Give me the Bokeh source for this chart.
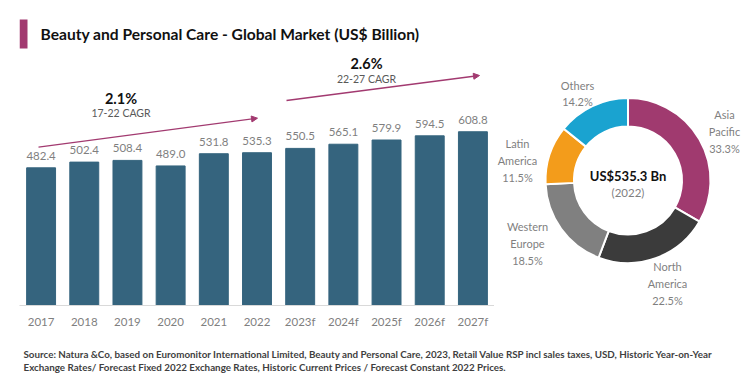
import math
from bokeh.plotting import figure
from bokeh.layouts import column, row
from bokeh.models import (ColumnDataSource, Label, Arrow, NormalHead, BoxAnnotation,
                          Range1d, FactorRange)
from bokeh.core.properties import value
from bokeh.embed import file_html
from bokeh.resources import INLINE

# ---------------- data ----------------
years = ["2017", "2018", "2019", "2020", "2021", "2022",
         "2023f", "2024f", "2025f", "2026f", "2027f"]
market = [482.4, 502.4, 508.4, 489.0, 531.8, 535.3,
          550.5, 565.1, 579.9, 594.5, 608.8]

cagr_hist = "2.1%"
cagr_hist_label = "17-22 CAGR"
cagr_fcst = "2.6%"
cagr_fcst_label = "22-27 CAGR"

regions = ["Asia Pacific", "North America", "Western Europe", "Latin America", "Others"]
shares = [33.3, 22.5, 18.5, 11.5, 14.2]
total_2022 = "US$535.3 Bn"
total_year = "(2022)"

title_text = "Beauty and Personal Care - Global Market (US$ Billion)"
source_lines = [
    "Source: Natura &Co, based on Euromonitor International Limited, Beauty and Personal Care, 2023, "
    "Retail Value RSP incl sales taxes, USD, Historic Year-on-Year",
    "Exchange Rates/ Forecast Fixed 2022 Exchange Rates, Historic Current Prices / Forecast Constant 2022 Prices.",
]

# ---------------- styles ----------------
FONT = "Lato"
BAR_COLOR = "#35647E"
ACCENT = "#A23A70"
GREY_TXT = "#7F7F7F"
region_colors = ["#A03A6F", "#3B3B3B", "#808080", "#F39C1B", "#1AA3D0"]
# label centres (relative to donut centre, px)
label_pos = [(96.5, 49), (39.5, -103), (-100.5, -63), (-110.5, 20), (-50.5, 87)]

W_BAR, W_DON, H_MAIN, H_FOOT = 494, 256, 340, 36

# ---------------- bar chart ----------------
p = figure(width=W_BAR, height=H_MAIN, x_range=FactorRange(*years, range_padding=0),
           y_range=Range1d(0, 1068.7), output_backend="svg", toolbar_location=None,
           y_axis_location=None,
           min_border_left=19, min_border_right=0, min_border_top=0, min_border_bottom=35)
p.outline_line_color = None
p.xgrid.visible = False
p.ygrid.visible = False
p.background_fill_color = "white"
p.border_fill_color = "white"

src = ColumnDataSource(dict(x=years, top=market, lab=[f"{v:.1f}" for v in market]))
p.vbar(x="x", top="top", width=0.67, source=src, color=BAR_COLOR)
p.text(x="x", y="top", text="lab", source=src, y_offset=-12,
       text_align="center", text_baseline="middle",
       text_font=value(FONT), text_font_size="11.5px", text_color=GREY_TXT)

ax = p.xaxis[0]
ax.axis_line_color = "#D9D9D9"
ax.major_tick_line_color = None
ax.minor_tick_line_color = None
ax.major_label_standoff = 3
ax.major_label_text_font = FONT
ax.major_label_text_font_size = "11.5px"
ax.major_label_text_color = GREY_TXT

# title block (screen units relative to frame)
p.add_layout(BoxAnnotation(left=0, right=8, bottom=257, top=286,
                           left_units="screen", right_units="screen",
                           bottom_units="screen", top_units="screen",
                           fill_color=ACCENT, fill_alpha=1, line_color=None))
p.add_layout(Label(x=21, y=271.5, x_units="screen", y_units="screen", text=title_text,
                   text_font=FONT, text_font_style="bold", text_font_size="15.6px",
                   text_color="#111111", text_baseline="middle"))

# CAGR annotations
def cagr(xc, y_pct, y_lab, pct, lab, xs, ys, xe, ye):
    p.add_layout(Label(x=xc, y=y_pct, x_units="screen", y_units="screen", text=pct,
                       text_font=FONT, text_font_style="bold", text_font_size="14.5px",
                       text_color="#111111", text_align="center", text_baseline="middle"))
    p.add_layout(Label(x=xc, y=y_lab, x_units="screen", y_units="screen", text=lab,
                       text_font=FONT, text_font_size="10.5px",
                       text_color="#595959", text_align="center", text_baseline="middle"))
    p.add_layout(Arrow(x_start=xs, y_start=ys, x_end=xe, y_end=ye,
                       start_units="screen", end_units="screen",
                       line_color=ACCENT, line_width=1.3,
                       end=NormalHead(size=6, fill_color=ACCENT, line_color=ACCENT)))

cagr(101.5, 207.5, 193, cagr_hist, cagr_hist_label, 19, 158.3, 238, 187.3)
cagr(347, 242, 227, cagr_fcst, cagr_fcst_label, 267, 205, 460, 230)

# ---------------- donut ----------------
# frame of this figure is aligned with the bar chart frame (page y 0..305)
d = figure(width=W_DON, height=H_MAIN, x_range=Range1d(-133.5, 122.5),
           y_range=Range1d(-125, 180), output_backend="svg", toolbar_location=None,
           x_axis_location=None, y_axis_location=None, min_border=0)
d.grid.visible = False
d.outline_line_color = None

tot = sum(shares)
cum = 0.0
starts, ends = [], []
for s in shares:
    a0 = math.pi / 2 - 2 * math.pi * cum / tot
    cum += s
    a1 = math.pi / 2 - 2 * math.pi * cum / tot
    starts.append(a1)
    ends.append(a0)

dsrc = ColumnDataSource(dict(start=starts, end=ends, color=region_colors))
d.annular_wedge(x=0, y=0, inner_radius=54, outer_radius=82.5, start_angle="start",
                end_angle="end", fill_color="color", line_color="white", line_width=2,
                source=dsrc)

lsrc = ColumnDataSource(dict(
    x=[q[0] for q in label_pos], y=[q[1] for q in label_pos],
    t=[r.replace(" ", "\n") + "\n" + f"{s:.1f}%" for r, s in zip(regions, shares)]))
d.text(x="x", y="y", text="t", source=lsrc, text_align="center", text_baseline="middle",
       text_font=value(FONT), text_font_size="11px", text_color=GREY_TXT,
       text_line_height=1.27)

d.text(x=[0], y=[5], text=[total_2022], text_align="center", text_baseline="middle",
       text_font=value(FONT), text_font_style="bold", text_font_size="13px",
       text_color="#111111")
d.text(x=[0], y=[-11.7], text=[total_year], text_align="center", text_baseline="middle",
       text_font=value(FONT), text_font_size="11.5px", text_color=GREY_TXT)

# ---------------- footer ----------------
f = figure(width=W_BAR + W_DON, height=H_FOOT, x_range=Range1d(0, W_BAR + W_DON),
           y_range=Range1d(0, H_FOOT), output_backend="svg", toolbar_location=None,
           x_axis_location=None, y_axis_location=None, min_border=0)
f.grid.visible = False
f.outline_line_color = None
for i, line in enumerate(source_lines):
    f.add_layout(Label(x=23, y=23 - 13 * i, x_units="screen", y_units="screen", text=line,
                       text_font=FONT, text_font_style="bold", text_font_size="9.8px",
                       text_color="#3F3F3F", text_baseline="middle"))

layout = column(row(p, d, spacing=0), f, spacing=0)
open("out.html", "w").write(file_html(layout, INLINE))
